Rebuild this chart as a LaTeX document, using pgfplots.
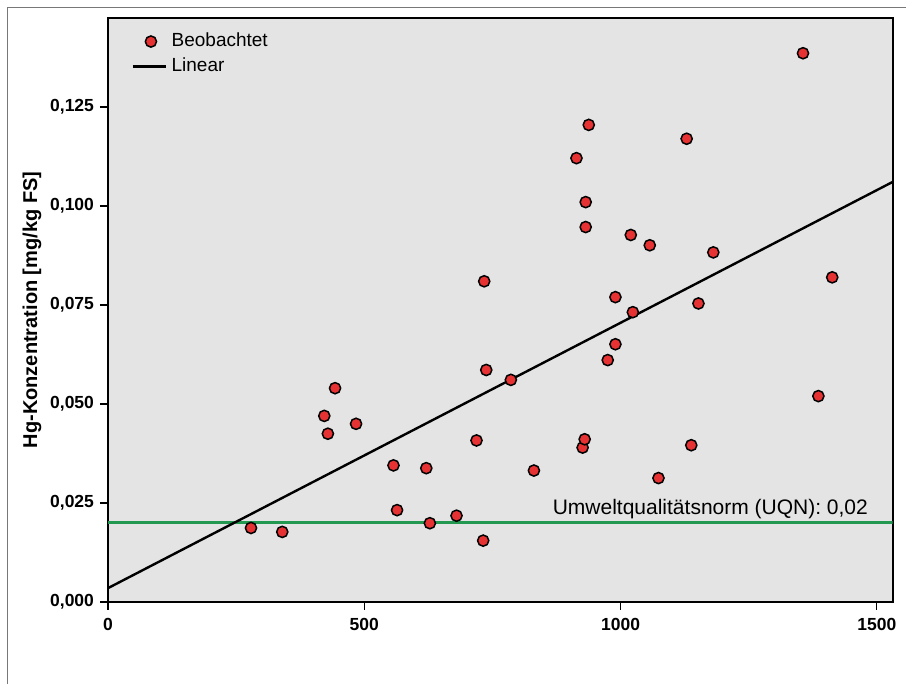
\documentclass[border=0pt]{standalone}
\usepackage{pgfplots}
\pgfplotsset{compat=1.18}
\usepackage{fontspec}
\setmainfont{Liberation Sans}
\definecolor{bg}{RGB}{228,228,228}
\definecolor{dotred}{RGB}{230,50,50}
\definecolor{uqngreen}{RGB}{35,152,80}
\definecolor{framegray}{RGB}{120,120,120}
\pgfplotsset{
  dotlegend/.style={legend image code/.code={\draw[##1] plot coordinates {(18pt,0pt)};}},
  linelegend/.style={legend image code/.code={\draw[##1] (0pt,0pt) -- (33pt,0pt);}},
}
\begin{document}
\begin{tikzpicture}
\useasboundingbox (-108pt,-82pt) rectangle (798pt,602pt);
\draw[framegray, line width=1.3pt] (-100.5pt,-82pt) -- (-100.5pt,594.5pt) -- (798pt,594.5pt);
\begin{axis}[
  scale only axis,
  width=784.7pt, height=584pt,
  at={(0pt,0pt)}, anchor=south west,
  xmin=0, xmax=1531, ymin=0, ymax=0.1475,
  axis background/.style={fill=bg},
  axis line style={line width=2pt, black},
  xtick={0,500,1000,1500},
  xticklabels={0,500,1000,1500},
  ytick={0,0.025,0.05,0.075,0.1,0.125},
  yticklabels={{0,000},{0,025},{0,050},{0,075},{0,100},{0,125}},
  xtick pos=bottom, ytick pos=left,
  tick align=outside,
  major tick length=8pt,
  tick style={line width=1.3pt, black},
  ticklabel style={font=\fontsize{17.5}{20}\selectfont\bfseries},
  /pgf/number format/assume math mode=true,
  xticklabel style={yshift=-5pt},
  yticklabel style={xshift=-2.5pt},
  ylabel={Hg-Konzentration [mg/kg FS]},
  every axis y label/.style={at={(axis description cs:-0.0969,0.5)}, rotate=90, anchor=center, font=\fontsize{20}{24}\selectfont\bfseries},
  legend cell align=left,
  legend style={at={(axis description cs:0.030,0.978)}, anchor=north west, draw=none, fill=none,
    font=\fontsize{19}{22}\selectfont, inner sep=0pt,
    nodes={inner sep=1.5pt, text height=14pt, text depth=4pt}, row sep=4pt,
    /tikz/every odd column/.append style={column sep=3pt}},
]
\addplot[uqngreen, line width=3pt, forget plot] coordinates {(0,0.02) (1531,0.02)};
\addplot[only marks, mark=*, mark size=5.6pt,
  mark options={fill=dotred, draw=black, line width=1.5pt}, dotlegend]
coordinates {
(279,0.0187) (340,0.0177) (422,0.0470) (429,0.0425) (443,0.0540) (484,0.0450)
(557,0.0345) (564,0.0232) (621,0.0338) (628,0.0199) (680,0.0218) (719,0.0408)
(732,0.0155) (734,0.0810) (738,0.0586) (786,0.0561) (831,0.0332) (914,0.1121)
(926,0.0390) (930,0.0411) (932,0.1010) (932,0.0947) (938,0.1205) (975,0.0611)
(990,0.0770) (990,0.0651) (1020,0.0927) (1024,0.0732) (1057,0.0901) (1074,0.0313)
(1129,0.1170) (1138,0.0396) (1152,0.0754) (1181,0.0883) (1356,0.1386) (1386,0.0520)
(1413,0.0820)
};
\addlegendentry{Beobachtet}
\addplot[black, line width=2.4pt, linelegend]
coordinates {(0,0.0035) (1531,0.1061)};
\addlegendentry{Linear}
\node[anchor=base east, font=\fontsize{21}{25}\selectfont, inner sep=0pt] at (axis cs:1483,0.0220) {Umweltqualitätsnorm (UQN): 0,02};
\end{axis}
\end{tikzpicture}
\end{document}
